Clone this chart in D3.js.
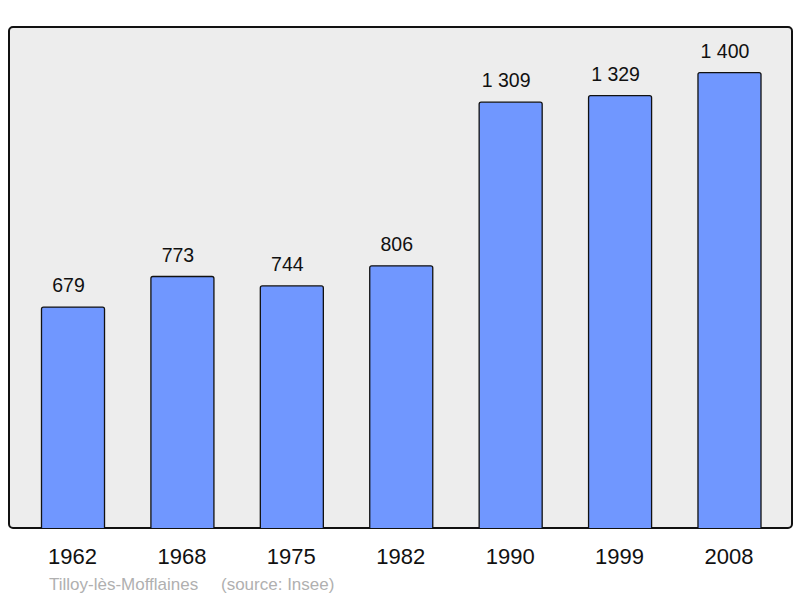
<!DOCTYPE html>
<html><head><meta charset="utf-8">
<script src="https://cdn.jsdelivr.net/npm/d3@7"></script>
<style>body{margin:0;background:#fff}svg{display:block}</style>
</head><body>
<svg id="c" width="800" height="598"></svg>
<script>
const years = ["1962","1968","1975","1982","1990","1999","2008"];
const population = [679, 773, 744, 806, 1309, 1329, 1400];
const valueLabels = ["679","773","744","806","1 309","1 329","1 400"];
const town = "Tilloy-lès-Mofflaines";
const source = "(source: Insee)";

const svg = d3.select("#c");
const frame = {x0: 9, y0: 27, x1: 792, y1: 528};
const font = "Liberation Sans, Arial, sans-serif";

svg.append("rect")
  .attr("x", frame.x0).attr("y", frame.y0)
  .attr("width", frame.x1 - frame.x0).attr("height", frame.y1 - frame.y0)
  .attr("rx", 4).attr("fill", "#ededed").attr("stroke", "#111").attr("stroke-width", 2);

const x = d3.scaleBand().domain(years).range([18.3, 784.2]).paddingInner(0.424).paddingOuter(0.212);
const y = d3.scaleLinear().domain([0, 1540]).range([frame.y1, frame.y0]);

const g = svg.append("g");
g.selectAll("path.bar").data(years).join("path")
  .attr("class", "bar")
  .attr("d", (d, i) => {
    const x0 = x(d), w = x.bandwidth(), top = y(population[i]), bot = frame.y1, r = 2;
    return `M${x0},${bot}V${top + r}Q${x0},${top} ${x0 + r},${top}H${x0 + w - r}Q${x0 + w},${top} ${x0 + w},${top + r}V${bot}`;
  })
  .attr("fill", "#7097ff").attr("stroke", "#111").attr("stroke-width", 1.3);

g.selectAll("text.val").data(years).join("text")
  .attr("class", "val")
  .attr("x", d => x(d) + x.bandwidth() / 2 - 4.5)
  .attr("y", (d, i) => y(population[i]) - 15)
  .attr("text-anchor", "middle")
  .attr("font-family", font)
  .attr("font-size", 19.5).attr("fill", "#111")
  .text((d, i) => valueLabels[i]);

const axis = d3.axisBottom(x).tickSize(0).tickPadding(0);
const ax = svg.append("g").attr("transform", `translate(0,${frame.y1})`).call(axis);
ax.select(".domain").remove();
ax.selectAll("text")
  .attr("dy", null).attr("y", 36).attr("dx", -0.5)
  .attr("font-family", font)
  .attr("font-size", 22).attr("fill", "#111");

svg.append("text").attr("x", 49).attr("y", 590)
  .attr("font-family", font)
  .attr("font-size", 17).attr("fill", "#b0b0b0").text(town);
svg.append("text").attr("x", 221).attr("y", 590)
  .attr("font-family", font)
  .attr("font-size", 17).attr("fill", "#b0b0b0").text(source);
</script>
</body></html>
